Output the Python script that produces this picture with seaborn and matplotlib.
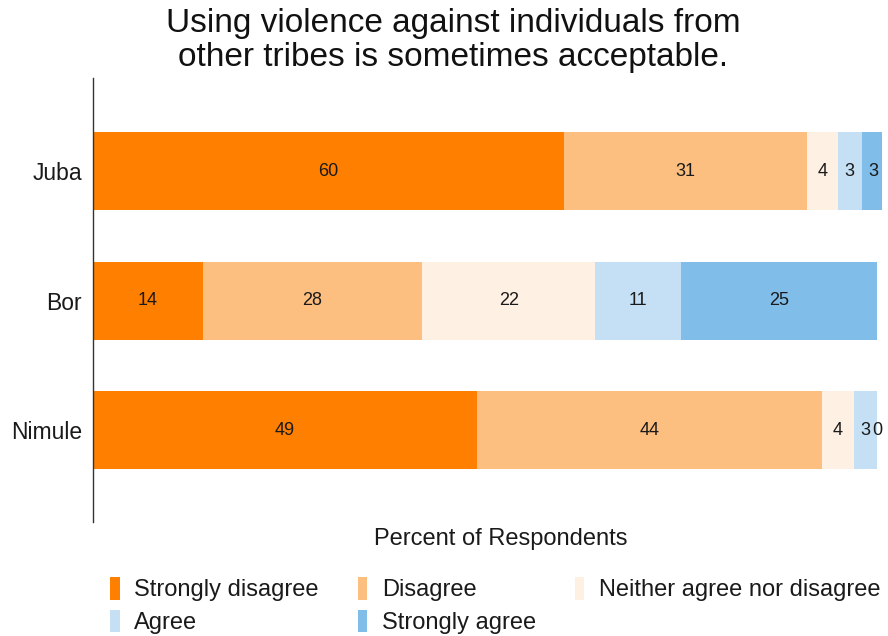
import numpy as np
import pandas as pd
import matplotlib
matplotlib.use("Agg")
import matplotlib.pyplot as plt
from matplotlib.patches import Patch
import seaborn as sns

# Survey responses by location (percent of respondents)
cities = ["Juba", "Bor", "Nimule"]
responses = ["Strongly disagree", "Disagree", "Neither agree nor disagree",
             "Agree", "Strongly agree"]
strongly_disagree = [60, 14, 49]
disagree = [31, 28, 44]
neither = [4, 22, 4]
agree = [3, 11, 3]
strongly_agree = [3, 25, 0]

colors = ["#FF7F00", "#FDBF80", "#FFF0E4", "#C5E0F4", "#80BDE8"]

sns.set_theme(style="white")
plt.rcParams["font.family"] = ["Liberation Sans", "DejaVu Sans"]

series = [strongly_disagree, disagree, neither, agree, strongly_agree]
df = pd.DataFrame({name: vals for name, vals in zip(responses, series)}, index=cities)
cum = df.cumsum(axis=1)

fig = plt.figure(figsize=(8.88, 6.36), dpi=100)
ax = fig.add_axes([0.1047, 0.1792, 0.8885, 0.6981])

# Stacked bars: draw cumulative totals from the outermost segment inward
for name, color in reversed(list(zip(responses, colors))):
    sns.barplot(x=cum[name].values, y=cities, color=color, orient="h",
                width=0.6, ax=ax, saturation=1, linewidth=0, edgecolor="none")

# Segment value labels
for name in responses:
    for i, city in enumerate(cities):
        v = df.loc[city, name]
        ax.text(cum.loc[city, name] - v / 2, i, f"{v}", ha="center", va="center",
                fontsize=13, color="#1a1a1a")

ax.set_xlim(0, 100.6)
ax.set_ylim(2.71, -0.72)
ax.set_xticks([])
ax.set_xlabel("")
ax.set_ylabel("")
ax.tick_params(axis="y", length=0, labelsize=16.5, pad=8, labelcolor="#1a1a1a")
for s in ["top", "right", "bottom"]:
    ax.spines[s].set_visible(False)
ax.spines["left"].set_color("#333333")
ax.spines["left"].set_linewidth(1.0)

fig.text(0.510, 0.987, "Using violence against individuals from\nother tribes is sometimes acceptable.",
         ha="center", va="top", fontsize=24, color="#111111", linespacing=1.12)
fig.text(0.564, 0.153, "Percent of Respondents", ha="center", va="center",
         fontsize=17, color="#1a1a1a")

# Legend entries filled column by column so rows read in response order
order = [0, 3, 1, 4, 2]
handles = [Patch(facecolor=colors[k], edgecolor="none", label=responses[k]) for k in order]
fig.legend(handles=handles, ncol=3, loc="upper left", bbox_to_anchor=(0.124, 0.093),
           frameon=False, fontsize=17, handlelength=0.4, handleheight=1.1,
           handletextpad=0.62, columnspacing=1.65, labelspacing=0.36,
           borderaxespad=0, borderpad=0, labelcolor="#1a1a1a")

fig.savefig("out.png", dpi=100)
